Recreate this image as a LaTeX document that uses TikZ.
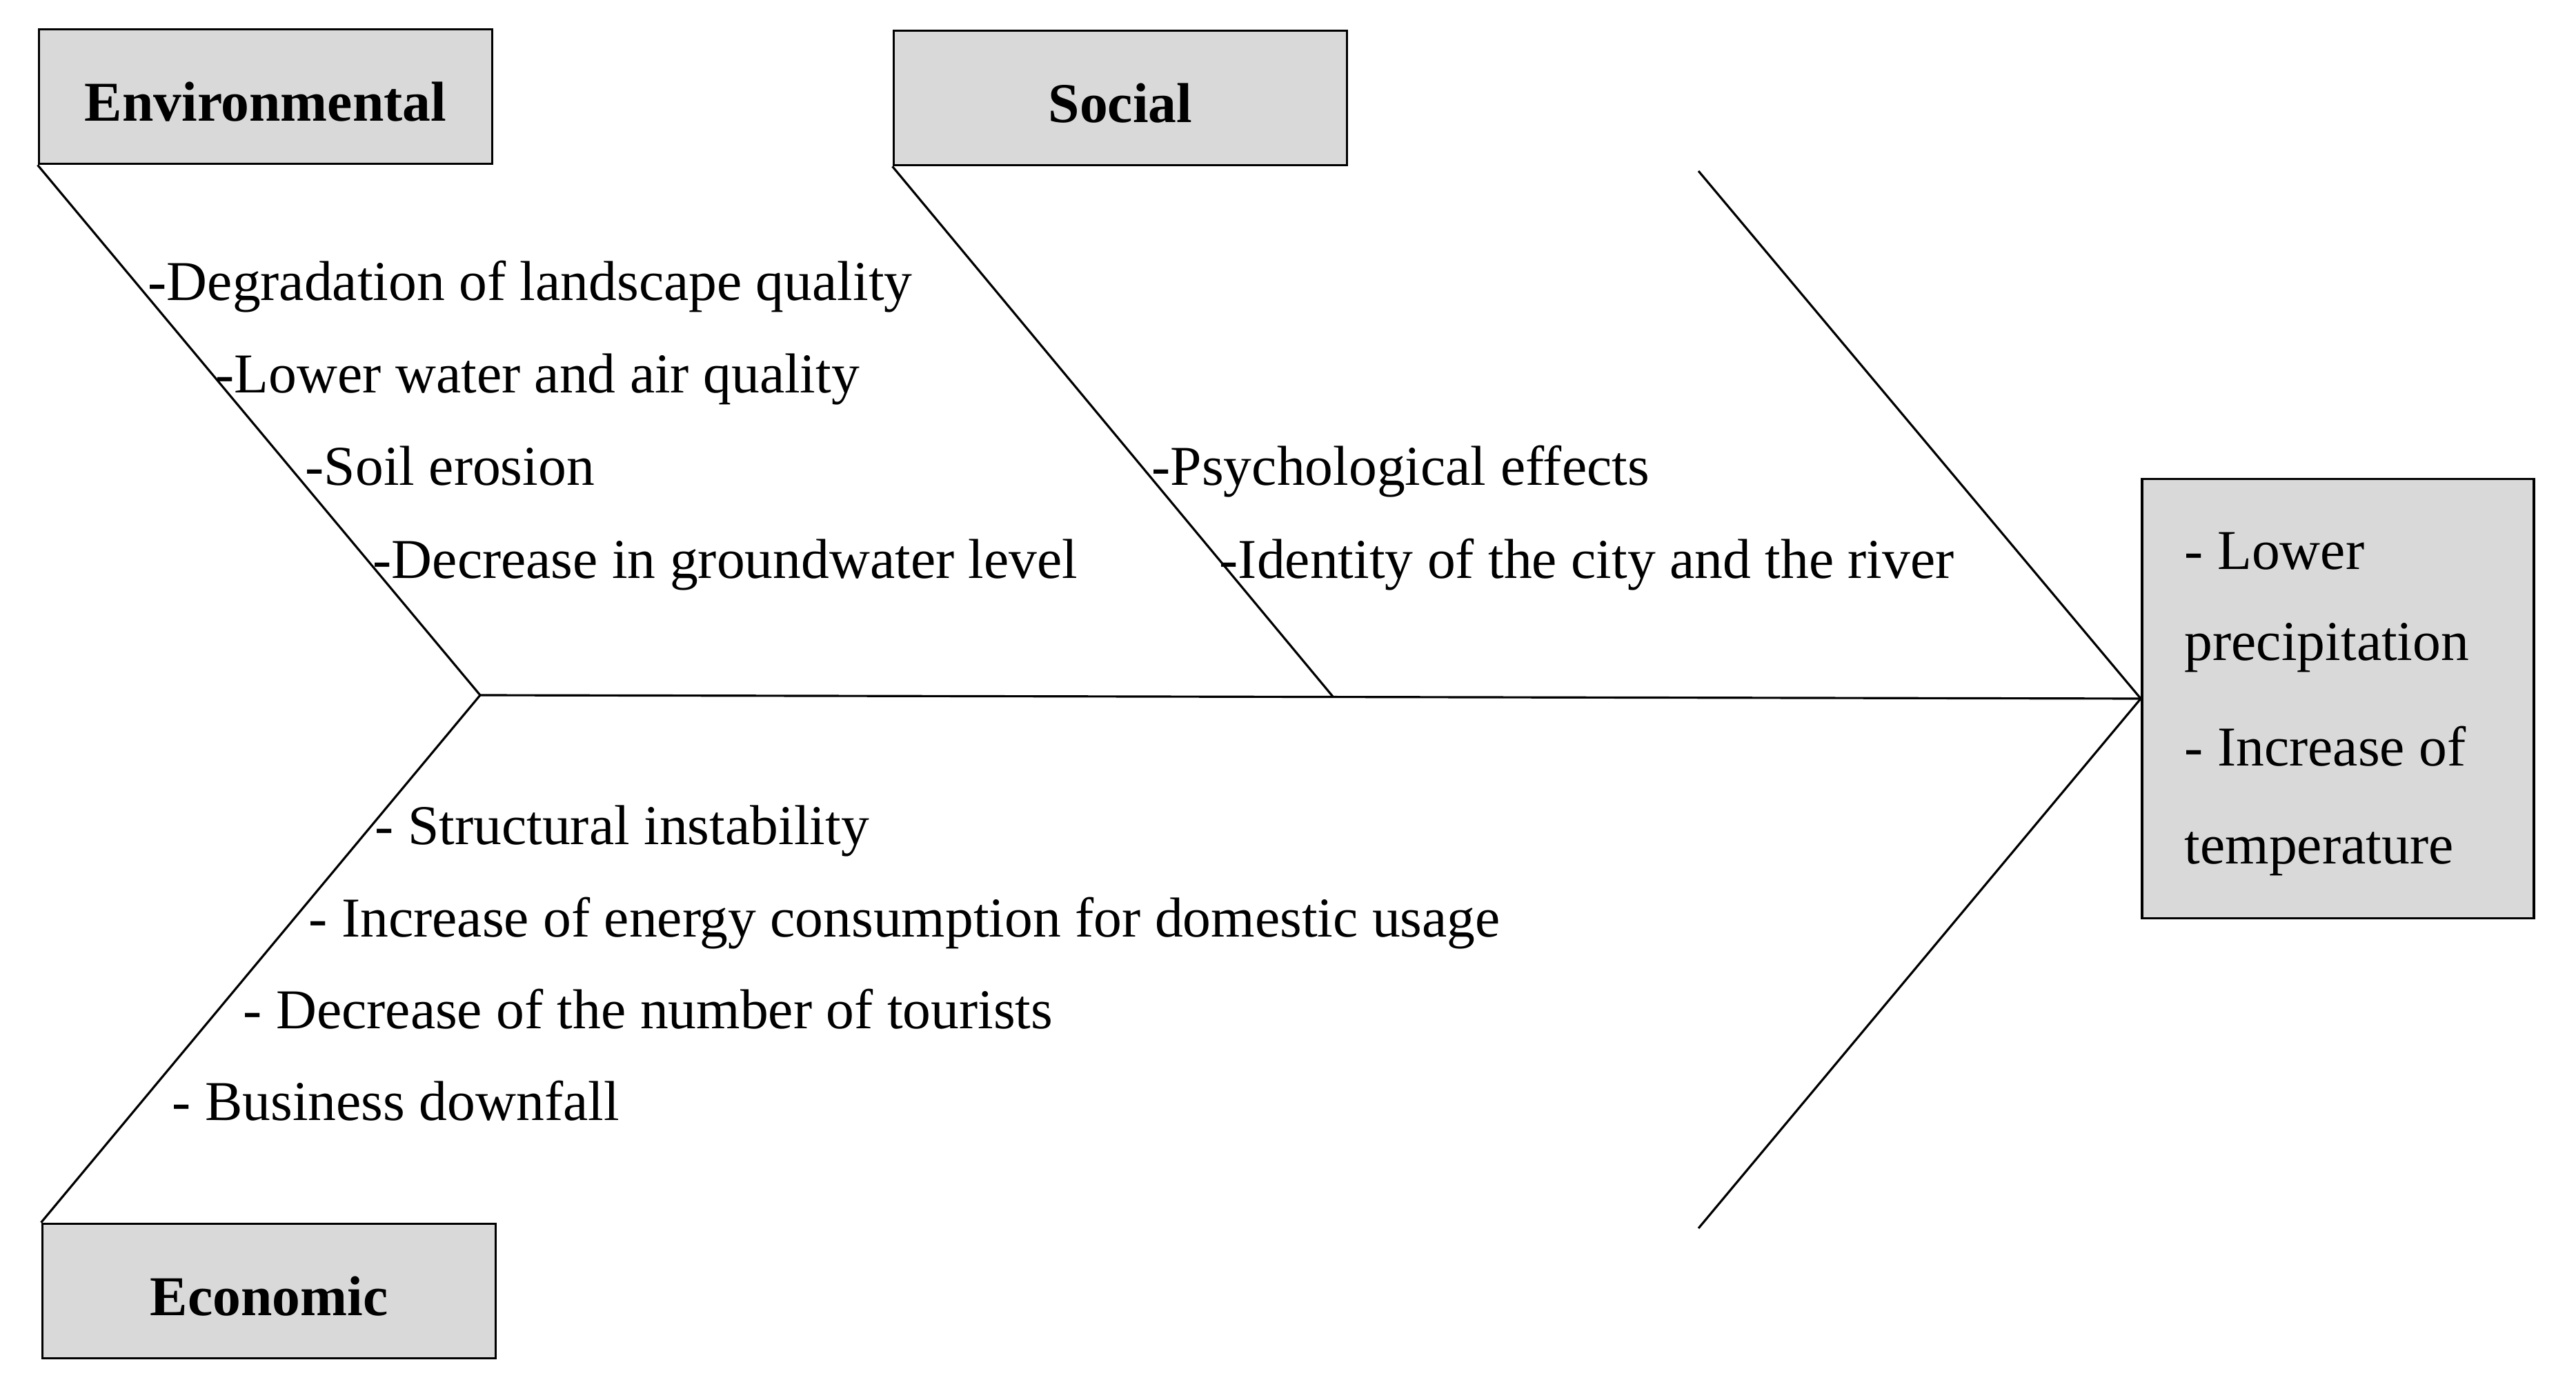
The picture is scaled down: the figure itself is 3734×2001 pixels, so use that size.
\documentclass[tikz,border=0pt]{standalone}
\usepackage{fontspec}
\setmainfont{Liberation Serif}
\usepackage{tikz}

\definecolor{boxgray}{RGB}{217,217,217}
\newcommand{\txtsize}{\fontsize{23.2}{28}\selectfont}

\tikzset{
    catbox/.style = {draw, fill=boxgray, line width=1pt, font=\txtsize\bfseries,
                     minimum width=6.57cm, minimum height=1.95cm,
                     text height=20pt, text depth=0pt},
    cause/.style  = {anchor=base west, inner sep=0pt, font=\txtsize},
    bone/.style   = {line width=0.9pt}
}

\begin{document}
\begin{tikzpicture}[x=0.01cm, y=-0.01cm]
        \useasboundingbox (0,0) rectangle (3734,2001);

        % category boxes and effect
        \node[catbox] (env) at (385,140) {Environmental};
        \node[catbox] (soc) at (1624,142) {Social};
        \node[catbox] (eco) at (390,1872) {Economic};
        \node[draw, fill=boxgray, line width=1pt, minimum width=5.68cm,
              minimum height=6.37cm] (eff) at (3389,1013) {};
        \node[cause] (eff1) at (3166,826) {- Lower};
        \node[cause] (eff2) at (3166,957) {precipitation};
        \node[cause] (eff3) at (3166,1110) {- Increase of};
        \node[cause] (eff4) at (3166,1252) {temperature};

        % spine and bones
        \coordinate (head) at (696,1008);
        \coordinate (socend) at (1932,1010);
        \coordinate (top3) at (2462,248);
        \coordinate (bot3) at (2462,1781);

        \draw[bone] (head) -- (eff.west);
        \draw[bone] (env.south west) -- (head);
        \draw[bone] (eco.north west) -- (head);
        \draw[bone] (soc.south west) -- (socend);
        \draw[bone] (top3) -- (eff.west);
        \draw[bone] (bot3) -- (eff.west);

        % causes
        \node[cause] (env1) at (214,436) {-Degradation of landscape quality};
        \node[cause] (env2) at (312,570) {-Lower water and air quality};
        \node[cause] (env3) at (442,704) {-Soil erosion};
        \node[cause] (env4) at (540,838) {-Decrease in groundwater level};

        \node[cause] (soc1) at (1669,704) {-Psychological effects};
        \node[cause] (soc2) at (1767,838) {-Identity of the city and the river};

        \node[cause] (eco1) at (543,1224) {- Structural instability};
        \node[cause] (eco2) at (447,1358) {- Increase of energy consumption for domestic usage};
        \node[cause] (eco3) at (352,1491) {- Decrease of the number of tourists};
        \node[cause] (eco4) at (249,1624) {- Business downfall};
\end{tikzpicture}
\end{document}
